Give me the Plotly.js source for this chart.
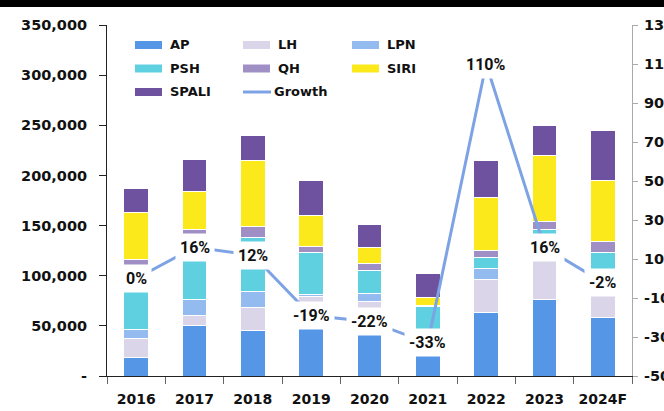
<!DOCTYPE html>
<html><head><meta charset="utf-8">
<script src="https://cdn.plot.ly/plotly-3.0.1.min.js"></script>
<style>html,body{margin:0;padding:0;background:#fff}#chart{width:664px;height:411px}</style>
</head><body><div id="chart"></div>
<script>
const years = ['2016','2017','2018','2019','2020','2021','2022','2023','2024F'];
const AP    = [18700, 49900, 45300, 55000, 52000, 24000, 63500, 75800, 58500];
const LH    = [19000, 10200, 23400, 24100, 21800, 12000, 33200, 44200, 29500];
const LPN   = [9000, 15700, 15300, 1700, 8300, 6000, 10300, 10000, 8000];
const PSH   = [61300, 62200, 53900, 42100, 23600, 27100, 11600, 16100, 27600];
const QH    = [8000, 8000, 11000, 6700, 6700, 1700, 7000, 8300, 10300];
const SIRI  = [46700, 38400, 65500, 30300, 15500, 7300, 52200, 65600, 61500];
const SPALI = [24000, 31900, 25600, 34600, 23600, 23900, 37200, 29800, 49900];
const growth = [0, 16, 12, -19, -22, -33, 110, 16, -2];
const leftTickVals = [0, 50000, 100000, 150000, 200000, 250000, 300000, 350000];
const leftTickText = ['-', '50,000', '100,000', '150,000', '200,000', '250,000', '300,000', '350,000'];
const rightTickVals = [-50, -30, -10, 10, 30, 50, 70, 90, 110, 130];
const rightTickText = ['-50%', '-30%', '-10%', '10%', '30%', '50%', '70%', '90%', '110%', '130%'];

const seriesNames = ['AP','LH','LPN','PSH','QH','SIRI','SPALI'];
const seriesData = [AP, LH, LPN, PSH, QH, SIRI, SPALI];
const seriesColors = ['#5596e6','#dbd5e9','#94bbf0','#5ed0e0','#a08fc4','#fbe91c','#6f529f'];
const lineColor = '#7ea3e4';

const traces = seriesNames.map((n,i)=>({
  type:'bar', name:n, x:years, y:seriesData[i],
  marker:{color:seriesColors[i], line:{color:'#ffffff', width:1}},
  showlegend:false, hoverinfo:'skip'
}));
traces.push({type:'scatter', mode:'lines', name:'Growth', x:years, y:growth, yaxis:'y2',
  line:{color:lineColor, width:3}, showlegend:false, hoverinfo:'skip'});

const L = 107, R = 632, T = 25, B = 376;
const px = v => (v - L)/(R - L);
const py = v => (B - v)/(B - T);

const shapes = [];
const annotations = [];
// top black bar
shapes.push({type:'rect', xref:'paper', yref:'paper', x0:px(0), x1:px(664), y0:py(7), y1:py(0),
  fillcolor:'#000', line:{width:0}});

// manual legend
const legendItems = [
  {name:'AP', color:seriesColors[0], col:0, row:0},
  {name:'LH', color:seriesColors[1], col:1, row:0},
  {name:'LPN', color:seriesColors[2], col:2, row:0},
  {name:'PSH', color:seriesColors[3], col:0, row:1},
  {name:'QH', color:seriesColors[4], col:1, row:1},
  {name:'SIRI', color:seriesColors[5], col:2, row:1},
  {name:'SPALI', color:seriesColors[6], col:0, row:2},
  {name:'Growth', color:lineColor, col:1, row:2, line:true}
];
const colX = [135, 243, 352];
const rowY = [45, 68.5, 92];
legendItems.forEach(it=>{
  const x0 = colX[it.col], yc = rowY[it.row];
  if (it.line) {
    shapes.push({type:'line', xref:'paper', yref:'paper', x0:px(x0), x1:px(x0+28), y0:py(yc), y1:py(yc),
      line:{color:it.color, width:3}});
    annotations.push({xref:'paper', yref:'paper', x:px(x0+29), y:py(yc), xanchor:'left', yanchor:'middle',
      text:it.name, showarrow:false, font:{family:'DejaVu Sans', size:13, weight:700, color:'#111'}});
  } else {
    shapes.push({type:'rect', xref:'paper', yref:'paper', x0:px(x0), x1:px(x0+27), y0:py(yc+4), y1:py(yc-4),
      fillcolor:it.color, line:{width:0}});
    annotations.push({xref:'paper', yref:'paper', x:px(x0+33), y:py(yc), xanchor:'left', yanchor:'middle',
      text:it.name, showarrow:false, font:{family:'DejaVu Sans', size:13, weight:700, color:'#111'}});
  }
});

// growth data labels (x given as category index)
growth.forEach((g,i)=>{
  annotations.push({x:i, y:g, xref:'x', yref:'y2', text:g+'%', showarrow:false,
    bgcolor:'#ffffff', borderpad:4, xanchor:'center', yanchor:'middle',
    font:{family:'Roboto', size:16, weight:700, color:'#111'}});
});

const tickFont = {family:'DejaVu Sans', size:14.5, weight:700, color:'#111'};
const layout = {
  width:664, height:411,
  margin:{l:L, r:664-R, t:T, b:411-B, pad:0},
  paper_bgcolor:'#ffffff', plot_bgcolor:'#ffffff',
  barmode:'stack', bargap:0.58,
  showlegend:false,
  xaxis:{type:'category', range:[-0.5, years.length-0.5], autorange:false, showline:true, linecolor:'#222', linewidth:1,
    ticks:'outside', tickson:'boundaries', tickangle:0,
    ticklen:7, tickcolor:'#666', tickfont:{family:'DejaVu Sans', size:14, weight:700, color:'#111'},
    showgrid:false, zeroline:false, ticklabelstandoff:10},
  yaxis:{range:[0,350000], autorange:false, tickvals:leftTickVals, ticktext:leftTickText, showline:true, linecolor:'#222',
    ticks:'outside', ticklen:7, tickcolor:'#222', tickfont:tickFont, showgrid:false, zeroline:false,
    ticklabelstandoff:9},
  yaxis2:{overlaying:'y', side:'right', range:[-50,130], autorange:false, tickvals:rightTickVals, ticktext:rightTickText,
    showline:true, linecolor:'#aaa', ticks:'outside', ticklen:5, tickcolor:'#aaa', tickfont:tickFont,
    showgrid:false, zeroline:false, ticklabelstandoff:3},
  shapes:shapes, annotations:annotations
};
Plotly.newPlot('chart', traces, layout, {displayModeBar:false, staticPlot:true});
</script></body></html>
